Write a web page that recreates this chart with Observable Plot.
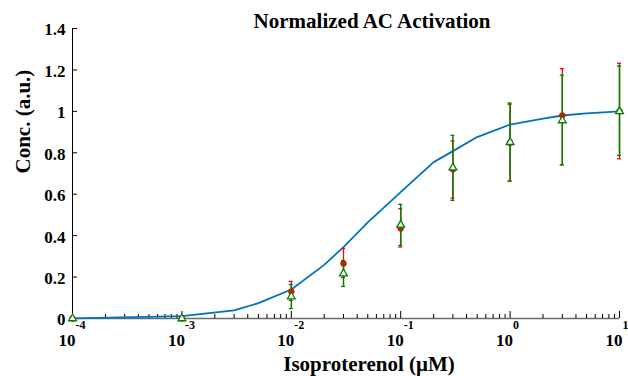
<!DOCTYPE html>
<html>
<head>
<meta charset="utf-8">
<script src="https://cdn.jsdelivr.net/npm/d3@7"></script>
<script src="https://cdn.jsdelivr.net/npm/@observablehq/plot@0.6"></script>
<style>
  html, body { margin: 0; padding: 0; background: #fff; }
  #chart svg { display: block; }
</style>
</head>
<body>
<div id="chart"></div>
<script>
// ---- Data ----
const doses = [1e-4, 1e-3, 1e-2, 3e-2, 1e-1, 3e-1, 1, 3, 10];

const redMean = [0, 0, 0.13, 0.265, 0.435, 0.72, 0.848, 0.98, 1.0];
const redLo   = [0, 0, 0.087, 0.198, 0.345, 0.581, 0.663, 0.742, 0.771];
const redHi   = [0, 0.005, 0.179, 0.338, 0.53, 0.857, 1.034, 1.206, 1.232];

const greenMean = [0, 0, 0.106, 0.217, 0.452, 0.728, 0.851, 0.956, 1.0];
const greenLo   = [0, 0, 0.048, 0.155, 0.353, 0.57, 0.663, 0.742, 0.787];
const greenHi   = [0, 0.005, 0.164, 0.28, 0.551, 0.884, 1.04, 1.175, 1.219];

const curveX = [1e-4, 1e-3, 3e-3, 5e-3, 1e-2, 2e-2, 3e-2, 5e-2, 1e-1, 2e-1, 3e-1, 5e-1, 1, 2, 3, 5, 10];
const curveY = [0.001, 0.011, 0.039, 0.074, 0.14, 0.259, 0.345, 0.464, 0.61, 0.755, 0.808, 0.876, 0.936, 0.965, 0.98, 0.99, 1.0];

const yTicks = [0, 0.2, 0.4, 0.6, 0.8, 1, 1.2, 1.4];
const yTickLabels = ["0", "0.2", "0.4", "0.6", "0.8", "1", "1.2", "1.4"];
const xTicks = [1e-4, 1e-3, 1e-2, 1e-1, 1, 10];
const xTickExps = ["-4", "-3", "-2", "-1", "0", "1"];
const xMinor = [];
for (let e = -4; e < 1; e++) for (let m = 2; m <= 9; m++) xMinor.push(+(m * Math.pow(10, e)).toPrecision(3));

const titleText = "Normalized AC Activation";
const xLabel = "Isoproterenol (\u03BCM)";
const yLabel = "Conc. (a.u.)";

// ---- Tables built from arrays ----
const points = doses.map((x, i) => ({
  x, rm: redMean[i], rl: redLo[i], rh: redHi[i],
  gm: greenMean[i], gl: greenLo[i], gh: greenHi[i]
}));
const curve = curveX.map((x, i) => ({x, y: curveY[i]}));
const yT = yTicks.map((v, i) => ({v, label: yTickLabels[i]}));
const xT = xTicks.map((v, i) => ({v, exp: xTickExps[i]}));

const FONT = "'Liberation Serif', 'Times New Roman', serif";
const RED = "#ff0000";
const GREEN = "#008000";
const BLUE = "#0072BD";

const chart = Plot.plot({
  width: 628,
  height: 376,
  marginLeft: 72,
  marginRight: 9,
  marginTop: 28,
  marginBottom: 58,
  style: {background: "#fff", fontFamily: FONT},
  x: {type: "log", domain: [1e-4, 10], axis: null},
  y: {domain: [0, 1.4], axis: null},
  marks: [
    // axes lines
    Plot.ruleY([0], {stroke: "#6b6b6b", strokeWidth: 1.5}),
    Plot.ruleX([1e-4], {stroke: "#000", strokeWidth: 1}),
    // inward ticks
    Plot.ruleY(yT, {y: "v", x1: 1e-4, x2: 1e-4, insetRight: -5, stroke: "#000"}),
    Plot.ruleX(xT, {x: "v", y1: 0, y2: 0, insetTop: -7, stroke: "#000"}),
    Plot.ruleX(xMinor, {x: d => d, y1: 0, y2: 0, insetTop: -4, stroke: "#000"}),
    // model curve
    Plot.line(curve, {x: "x", y: "y", stroke: BLUE, strokeWidth: 1.8}),
    // red series
    Plot.ruleX(points, {x: "x", y1: "rl", y2: "rh", stroke: RED, strokeWidth: 1.3}),
    Plot.ruleY(points, {y: "rl", x1: "x", x2: "x", insetLeft: -2, insetRight: -2, stroke: RED, strokeWidth: 1.3}),
    Plot.ruleY(points, {y: "rh", x1: "x", x2: "x", insetLeft: -2, insetRight: -2, stroke: RED, strokeWidth: 1.3}),
    Plot.dot(points, {x: "x", y: "rm", r: 3, fill: RED, stroke: RED, strokeWidth: 0.5}),
    // green series
    Plot.ruleX(points, {x: "x", y1: "gl", y2: "gh", stroke: GREEN, strokeWidth: 1.5}),
    Plot.ruleY(points, {y: "gl", x1: "x", x2: "x", insetLeft: -2, insetRight: -2, stroke: GREEN, strokeWidth: 1.3}),
    Plot.ruleY(points, {y: "gh", x1: "x", x2: "x", insetLeft: -2, insetRight: -2, stroke: GREEN, strokeWidth: 1.3}),
    Plot.dot(points, {x: "x", y: "gm", r: 2.9, symbol: "triangle", fill: "#fff", stroke: GREEN, strokeWidth: 1.3}),
    // y tick labels
    Plot.text(yT, {y: "v", text: "label", frameAnchor: "left", textAnchor: "end", lineAnchor: "middle",
      dx: -7, dy: 1.5, fontSize: 17, fontWeight: "bold", fill: "#000"}),
    // x tick labels: base and exponent
    Plot.text(xT, {x: "v", text: () => "10", frameAnchor: "bottom", textAnchor: "end", lineAnchor: "bottom",
      dx: 3, dy: 27, fontSize: 17, fontWeight: "bold", fill: "#000"}),
    Plot.text(xT, {x: "v", text: "exp", frameAnchor: "bottom", textAnchor: "start", lineAnchor: "bottom",
      dx: 3, dy: 10, fontSize: 12, fontWeight: "bold", fill: "#000"}),
    // title & axis labels
    Plot.text([titleText], {frameAnchor: "top", lineAnchor: "bottom", dx: 26, dy: -1,
      fontSize: 21, fontWeight: "bold", fill: "#000"}),
    Plot.text([xLabel], {frameAnchor: "bottom", lineAnchor: "bottom", dx: 23, dy: 52,
      fontSize: 21, fontWeight: "bold", fill: "#000"}),
    Plot.text([yLabel], {frameAnchor: "left", lineAnchor: "bottom", rotate: -90, dx: -43,
      fontSize: 21, fontWeight: "bold", fill: "#000"})
  ]
});
document.getElementById("chart").appendChild(chart);
</script>
</body>
</html>
